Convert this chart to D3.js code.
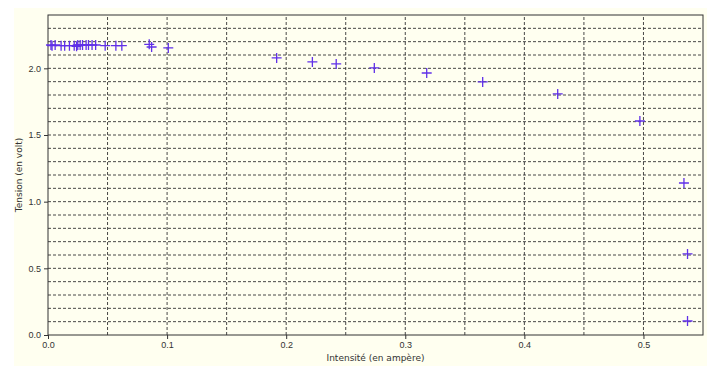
<!DOCTYPE html>
<html>
<head>
<meta charset="utf-8">
<script src="https://cdn.jsdelivr.net/npm/d3@7"></script>
<style>
  body { margin: 0; background: #fff; }
  svg { display: block; font-family: "DejaVu Sans", sans-serif; }
</style>
</head>
<body>
<div class="chart"></div>
<script>
// Measured points: intensity (A) and voltage (V)
const intensite = [0.0025, 0.0034, 0.006, 0.011, 0.014, 0.018, 0.022, 0.024, 0.025, 0.027,
  0.029, 0.032, 0.034, 0.037, 0.040, 0.048, 0.057, 0.062, 0.085, 0.087, 0.101,
  0.192, 0.222, 0.242, 0.274, 0.318, 0.365, 0.428, 0.497, 0.534, 0.537, 0.537];
const tension = [2.175, 2.17, 2.175, 2.17, 2.17, 2.17, 2.17, 2.165, 2.175, 2.175,
  2.175, 2.175, 2.175, 2.175, 2.175, 2.17, 2.17, 2.17, 2.18, 2.16, 2.153,
  2.078, 2.048, 2.033, 2.003, 1.965, 1.898, 1.808, 1.605, 1.14, 0.608, 0.105];
const xTicks = [0, 0.1, 0.2, 0.3, 0.4, 0.5];
const yTicks = [0, 0.5, 1.0, 1.5, 2.0];

const WIDTH = 714, HEIGHT = 366;
const margin = { left: 48, right: 11, top: 15, bottom: 31 };

const svg = d3.select(".chart").append("svg")
  .attr("width", WIDTH).attr("height", HEIGHT);

// figure background
svg.append("rect").attr("x", 14).attr("y", 8)
  .attr("width", 693).attr("height", HEIGHT - 8).attr("fill", "#fffff0");

const xScale = d3.scaleLinear().domain([0, 0.55])
  .range([margin.left, WIDTH - margin.right]);
const yScale = d3.scaleLinear().domain([0, 2.4])
  .range([HEIGHT - margin.bottom, margin.top]);

// grid (major + minor)
const gridX = d3.range(1, 11).map((i) => i * 0.05);
const gridY = d3.range(1, 24).map((i) => i / 10);
svg.append("g").selectAll("line").data(gridX).join("line")
  .attr("x1", (d) => xScale(d)).attr("x2", (d) => xScale(d))
  .attr("y1", yScale(0)).attr("y2", yScale(2.4))
  .attr("stroke", "#333").attr("stroke-width", 0.9).attr("stroke-dasharray", "3,2");
svg.append("g").selectAll("line").data(gridY).join("line")
  .attr("x1", xScale(0)).attr("x2", xScale(0.55))
  .attr("y1", (d) => yScale(d)).attr("y2", (d) => yScale(d))
  .attr("stroke", "#333").attr("stroke-width", 0.9).attr("stroke-dasharray", "3,2");

// axes
const xAxis = svg.append("g")
  .attr("transform", `translate(0,${yScale(0)})`)
  .call(d3.axisBottom(xScale).tickValues(xTicks).tickFormat(d3.format(".1f")).tickSize(4).tickPadding(3));
const yAxis = svg.append("g")
  .attr("transform", `translate(${xScale(0)},0)`)
  .call(d3.axisLeft(yScale).tickValues(yTicks).tickFormat(d3.format(".1f")).tickSize(4).tickPadding(3));
[xAxis, yAxis].forEach((a) => {
  a.select(".domain").remove();
  a.selectAll("text").attr("font-size", 9).attr("fill", "#333");
  a.selectAll("line").attr("stroke", "#333");
});

// frame
svg.append("rect")
  .attr("x", xScale(0)).attr("y", yScale(2.4))
  .attr("width", xScale(0.55) - xScale(0)).attr("height", yScale(0) - yScale(2.4))
  .attr("fill", "none").attr("stroke", "#333").attr("stroke-width", 1);

// markers
const pts = intensite.map((x, i) => ({ x, y: tension[i] }));
const s = 5;
svg.append("g").selectAll("path").data(pts).join("path")
  .attr("d", (d) => {
    const cx = xScale(d.x), cy = yScale(d.y);
    return `M${cx - s},${cy}H${cx + s}M${cx},${cy - s}V${cy + s}`;
  })
  .attr("stroke", "#6030e8").attr("stroke-width", 1.3).attr("fill", "none");

// labels
svg.append("text")
  .attr("x", (xScale(0) + xScale(0.55)) / 2).attr("y", 361)
  .attr("text-anchor", "middle").attr("font-size", 9).attr("fill", "#333")
  .text("Intensité (en ampère)");
svg.append("text")
  .attr("transform", `translate(22,${(yScale(0) + yScale(2.4)) / 2}) rotate(-90)`)
  .attr("text-anchor", "middle").attr("font-size", 9).attr("fill", "#333")
  .text("Tension (en volt)");
</script>
</body>
</html>
